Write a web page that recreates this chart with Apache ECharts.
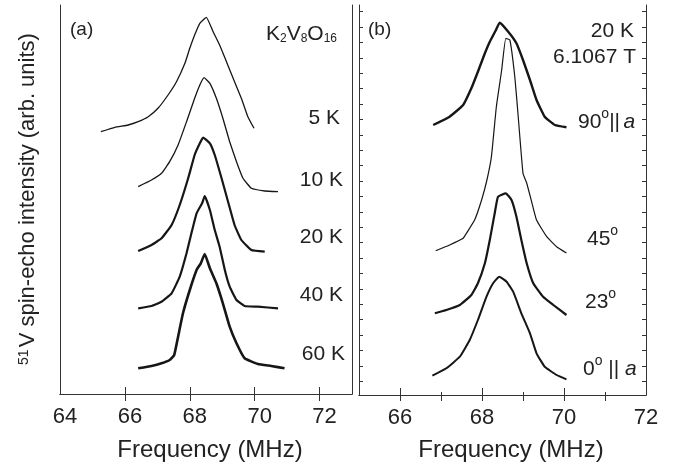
<!DOCTYPE html>
<html>
<head>
<meta charset="utf-8">
<script src="https://cdn.jsdelivr.net/npm/echarts@6.0.0/dist/echarts.min.js"></script>
<style>
html,body{margin:0;padding:0;background:#fff;}
#chart{width:682px;height:470px;}
</style>
</head>
<body>
<div id="chart"></div>
<script>
// ---------- Data (frequency in MHz, intensity in arb. units) ----------
// Panel (a): K2V8O16, temperature dependence
const f5K  = [65.26,65.69,66.10,66.41,66.72,67.02,67.33,67.59,67.85,68.00,68.15,68.31,68.51,68.72,68.92,69.13,69.38,69.59,69.79,69.98];
const i5K  = [262.3,266.7,269.0,272.3,277.3,285.7,299.0,312.3,330.7,345.7,359.0,370.7,376.7,362.3,349.0,332.3,312.3,295.7,277.3,265.7];
const f10K = [66.41,66.82,67.13,67.38,67.64,67.90,68.15,68.31,68.44,68.62,68.82,69.02,69.23,69.44,69.64,69.90,70.31,70.72];
const i10K = [207.3,214.0,220.7,232.3,249.0,272.3,295.7,309.0,316.3,310.7,295.7,275.7,252.3,232.3,215.7,205.7,203.0,202.3];
const f20K = [66.41,66.82,67.13,67.44,67.69,67.95,68.15,68.31,68.41,68.62,68.77,68.98,69.18,69.38,69.59,69.90,70.31];
const i20K = [143.0,149.0,155.7,169.0,189.0,215.7,239.0,250.7,256.3,250.7,239.0,215.7,192.3,169.0,154.0,144.0,142.3];
const f40K = [66.41,66.82,67.13,67.44,67.69,67.90,68.05,68.21,68.38,68.46,68.62,68.77,68.92,69.08,69.23,69.44,69.69,70.10,70.72];
const i40K = [85.7,88.0,92.3,100.7,117.3,140.7,160.7,180.7,190.7,198.0,184.0,164.0,147.3,124.0,107.3,94.0,88.0,87.3,85.7];
const f60K = [66.41,66.82,67.13,67.38,67.52,67.64,67.79,68.00,68.21,68.34,68.46,68.62,68.82,69.02,69.23,69.44,69.69,70.10,70.51,70.92];
const i60K = [25.7,28.0,30.7,34.0,39.0,57.3,80.7,104.0,124.0,130.7,140.0,125.7,110.7,90.7,67.3,50.7,35.7,30.0,28.0,25.7];

// Panel (b): 20 K, 6.1067 T, angle dependence
const f90 = [66.81,67.21,67.54,67.74,67.90,68.07,68.19,68.34,68.43,68.64,68.84,69.00,69.17,69.33,69.53,69.78,70.06];
const i90 = [270.0,278.3,290.0,306.7,323.3,341.7,353.3,365.0,372.3,363.3,351.7,335.0,315.0,295.0,278.3,270.0,267.7];
const f45 = [66.87,67.21,67.54,67.62,67.82,67.99,68.12,68.23,68.35,68.48,68.58,68.68,68.80,68.88,69.00,69.09,69.21,69.33,69.58,69.82,70.06];
const i45 = [144.3,150.0,156.7,161.7,175.0,195.0,215.0,238.3,288.3,325.0,356.7,355.0,318.3,280.0,221.7,212.0,193.3,175.0,158.3,148.3,142.0];
const f23 = [66.85,67.13,67.46,67.74,67.90,68.07,68.19,68.31,68.39,68.58,68.72,68.84,68.96,69.09,69.25,69.49,69.74,70.06];
const i23 = [81.7,85.0,90.0,100.0,111.7,131.7,155.0,181.7,198.3,201.7,195.0,178.3,155.0,131.7,111.7,98.3,90.0,80.0];
const f0  = [66.79,67.13,67.46,67.70,67.90,68.11,68.27,68.42,68.60,68.76,68.96,69.17,69.33,69.53,69.82,70.06];
const i0  = [19.3,26.7,38.3,55.0,75.0,98.3,111.7,118.3,113.3,103.3,81.7,61.7,41.7,28.3,20.0,15.7];

// Tick labels
const ticksA = [64,66,68,70,72];
const ticksB = [66,68,70,72];

// ---------------------------------------------------------------------
const zip = (xs, ys) => xs.map((x, k) => [x, ys[k]]);
const FONT = "'Liberation Sans', Arial, Helvetica, sans-serif";
const INK = '#161616';
const AX = '#333';
const TXT = '#222';

const chart = echarts.init(document.getElementById('chart'), null, {renderer: 'canvas'});

const yTickVals = [];
for (let k = 0; k <= 24; k++) yTickVals.push(+(13.7 + 15.4 * k).toFixed(2));

const axisLine = {show: true, lineStyle: {color: AX, width: 1}};
const noLabel = {show: false};

function line(x, y, xi, yi, w) {
  return {
    type: 'line', xAxisIndex: xi, yAxisIndex: yi, data: zip(x, y),
    showSymbol: false, symbol: 'none', smooth: 0.12, animation: false,
    lineStyle: {color: INK, width: w, join: 'round'}
  };
}

const degRich = {
  n: {font: '21px ' + FONT, fill: TXT},
  o: {font: '14px ' + FONT, fill: TXT, verticalAlign: 'top', padding: [0, 0, 16, 0]},
  i: {font: 'italic 21px ' + FONT, fill: TXT}
};
function txt(x, y, text, align) {
  return {type: 'text', x, y, style: {text, font: '21px ' + FONT, fill: TXT, align: align || 'right', verticalAlign: 'middle'}};
}
function degTxt(x, y, text) {
  return {type: 'text', x, y, style: {text, verticalAlign: 'middle', rich: degRich}};
}

const option = {
  backgroundColor: '#fff',
  animation: false,
  grid: [
    {left: 60, top: 5, width: 292, height: 389},
    {left: 359, top: 5, width: 287, height: 390},
    {left: 359, top: 5, width: 287, height: 390}
  ],
  xAxis: [
    {
      gridIndex: 0, type: 'value', position: 'bottom', min: 64, max: 73,
      axisLine, splitLine: {show: false},
      axisTick: {inside: true, length: 7, lineStyle: {color: AX}, customValues: [66,68,70,72]},
      axisLabel: {customValues: ticksA, fontFamily: FONT, fontSize: 22, color: TXT, margin: 12, padding: [0, 0, 0, 10]}
    },
    {
      gridIndex: 0, type: 'value', position: 'top', min: 64, max: 73,
      axisLine, splitLine: {show: false},
      axisTick: {inside: true, length: 7, lineStyle: {color: AX}, customValues: [66,68,70,72]},
      axisLabel: noLabel
    },
    {
      gridIndex: 1, type: 'value', position: 'bottom', min: 65, max: 72,
      axisLine, splitLine: {show: false},
      axisTick: {inside: true, length: 7, lineStyle: {color: AX}, customValues: [66,68,70]},
      axisLabel: {customValues: ticksB, fontFamily: FONT, fontSize: 22, color: TXT, margin: 12}
    },
    {
      gridIndex: 1, type: 'value', position: 'top', min: 65, max: 72,
      axisLine, splitLine: {show: false},
      axisTick: {inside: true, length: 6, lineStyle: {color: AX}, customValues: [66,67,68,69,70,71]},
      axisLabel: noLabel
    },
    {
      gridIndex: 2, type: 'value', position: 'bottom', min: 65, max: 72,
      axisLine: {show: false}, splitLine: {show: false},
      axisTick: {inside: true, length: 3, lineStyle: {color: AX}, customValues: [67,69,71]},
      axisLabel: noLabel
    }
  ],
  yAxis: [
    {
      gridIndex: 0, type: 'value', position: 'left', min: 0, max: 389,
      axisLine, axisTick: {show: false}, axisLabel: noLabel, splitLine: {show: false}
    },
    {
      gridIndex: 0, type: 'value', position: 'right', min: 0, max: 389,
      axisLine, axisTick: {show: false}, axisLabel: noLabel, splitLine: {show: false}
    },
    {
      gridIndex: 1, type: 'value', position: 'left', min: 0, max: 390,
      axisLine, splitLine: {show: false}, axisLabel: noLabel,
      axisTick: {inside: true, length: 4, lineStyle: {color: AX}, customValues: yTickVals}
    },
    {
      gridIndex: 1, type: 'value', position: 'right', min: 0, max: 390,
      axisLine, splitLine: {show: false}, axisLabel: noLabel,
      axisTick: {inside: true, length: 4, lineStyle: {color: AX}, customValues: yTickVals}
    },
    {
      gridIndex: 2, type: 'value', min: 0, max: 390, show: false
    }
  ],
  series: [
    line(f5K, i5K, 0, 0, 1.3),
    line(f10K, i10K, 0, 0, 1.3),
    line(f20K, i20K, 0, 0, 2.2),
    line(f40K, i40K, 0, 0, 2.2),
    line(f60K, i60K, 0, 0, 2.6),
    line(f90, i90, 2, 2, 2.4),
    line(f45, i45, 2, 2, 1.2),
    line(f23, i23, 2, 2, 2.2),
    line(f0, i0, 2, 2, 2.0)
  ],
  graphic: [
    // axis titles
    {type: 'text', x: 210, y: 450, style: {text: 'Frequency (MHz)', font: '24px ' + FONT, fill: TXT, align: 'center', verticalAlign: 'middle'}},
    {type: 'text', x: 511, y: 450, style: {text: 'Frequency (MHz)', font: '24px ' + FONT, fill: TXT, align: 'center', verticalAlign: 'middle'}},
    {type: 'text', x: 28, y: 199, rotation: Math.PI / 2, style: {
      text: '{sup|51}{m|V spin-echo intensity (arb. units)}', align: 'center', verticalAlign: 'middle',
      rich: {
        m: {font: '22px ' + FONT, fill: TXT},
        sup: {font: '14px ' + FONT, fill: TXT, verticalAlign: 'top', padding: [0, 2, 8, 0]}
      }
    }},
    // panel (a)
    {type: 'text', x: 70, y: 30, style: {text: '(a)', font: '19px ' + FONT, fill: TXT, verticalAlign: 'middle'}},
    {type: 'text', x: 337, y: 34, style: {
      text: '{m|K}{s|2}{m|V}{s|8}{m|O}{s|16}', align: 'right', verticalAlign: 'middle',
      rich: {
        m: {font: '21px ' + FONT, fill: TXT},
        s: {font: '12px ' + FONT, fill: TXT, verticalAlign: 'bottom', padding: [8, 0, 0, 0]}
      }
    }},
    txt(340, 118, '5 K'),
    txt(343, 180, '10 K'),
    txt(343, 237, '20 K'),
    txt(343, 295, '40 K'),
    txt(345, 354, '60 K'),
    // panel (b)
    {type: 'text', x: 368, y: 30, style: {text: '(b)', font: '19px ' + FONT, fill: TXT, verticalAlign: 'middle'}},
    txt(634, 31, '20 K'),
    txt(636, 57, '6.1067 T'),
    degTxt(578, 122, '{n|90}{o|o}{n|||} {i|a}'),
    degTxt(587, 239, '{n|45}{o|o}'),
    degTxt(585, 302, '{n|23}{o|o}'),
    degTxt(583, 369, '{n|0}{o|o}{n| || }{i|a}')
  ]
};

chart.setOption(option);
</script>
</body>
</html>
